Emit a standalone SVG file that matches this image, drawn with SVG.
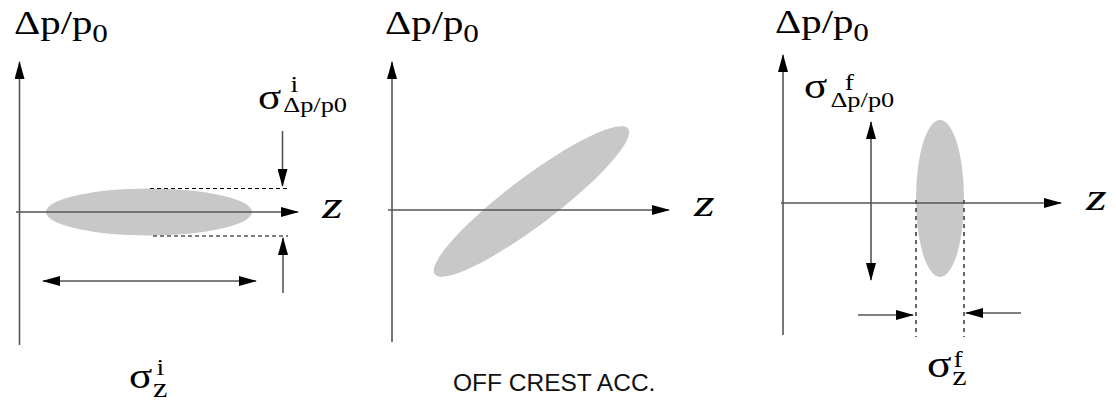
<svg xmlns="http://www.w3.org/2000/svg" width="1116" height="404" viewBox="0 0 1116 404">
  <style>
    .ser { font-family: "Liberation Serif", "Times New Roman", serif; fill: #000; }
    .ital { font-family: "Liberation Serif", "Times New Roman", serif; font-style: italic; fill: #000; }
    .sans { font-family: "Liberation Sans", Arial, sans-serif; fill: #111; }
    .axis { stroke: #555; stroke-width: 1.6; fill: none; }
    .dim { stroke: #555; stroke-width: 1.6; fill: none; }
    .dash1 { stroke: #000; stroke-width: 1; stroke-dasharray: 4 3; fill: none; }
    .dash3 { stroke: #555; stroke-width: 1.8; stroke-dasharray: 4 4; fill: none; }
    .blob { fill: #c8c8c8; }
  </style>
  <defs>
    <marker id="arr" markerUnits="userSpaceOnUse" viewBox="0 0 18 10" markerWidth="18" markerHeight="10" refX="17" refY="5" orient="auto-start-reverse">
      <path d="M0,0 L18,5 L0,10 z" fill="#000"/>
    </marker>
  </defs>

  <!-- Panel 1 -->
  <g id="panel1">
    <ellipse class="blob" cx="149" cy="212" rx="103" ry="23.5"/>
    <g id="panel1-connectors">
      <line class="axis" x1="19.5" y1="345" x2="19.5" y2="62" marker-end="url(#arr)"/>
      <line class="axis" x1="16" y1="212" x2="298" y2="212" marker-end="url(#arr)"/>
      <line class="dash1" x1="150" y1="188.5" x2="288" y2="188.5"/>
      <line class="dash1" x1="153" y1="236" x2="288" y2="236"/>
      <line class="dim" x1="282.5" y1="131" x2="282.5" y2="186" marker-end="url(#arr)"/>
      <line class="dim" x1="283" y1="293" x2="283" y2="238" marker-end="url(#arr)"/>
      <line class="dim" x1="43" y1="281" x2="256" y2="281" marker-start="url(#arr)" marker-end="url(#arr)"/>
    </g>
    <g id="panel1-labels">
      <text class="ser" font-size="34" transform="translate(14,34) scale(1.2,1)">Δp/p<tspan font-size="26" dy="8">0</tspan></text>
      <text class="ital" font-size="38" transform="translate(322,218) scale(1.4,1)">z</text>
      <text id="sigma-dp-i" class="ser" font-size="36" transform="translate(258,109) scale(1.2,1)">σ<tspan font-size="23" x="27" y="-17">i</tspan><tspan font-size="22" x="21" y="3">Δp/p0</tspan></text>
      <text id="sigma-z-i" class="ser" font-size="36" transform="translate(129,388) scale(1.2,1)">σ<tspan font-size="23" x="23" y="-13">i</tspan><tspan font-size="27" x="20" y="9">z</tspan></text>
    </g>
  </g>

  <!-- Panel 2 -->
  <g id="panel2">
    <ellipse class="blob" cx="0" cy="0" rx="121" ry="24" transform="translate(531.5,201.5) rotate(-37)"/>
    <g id="panel2-connectors">
      <line class="axis" x1="392" y1="342" x2="392" y2="62" marker-end="url(#arr)"/>
      <line class="axis" x1="388" y1="210" x2="669" y2="210" marker-end="url(#arr)"/>
    </g>
    <g id="panel2-labels">
      <text class="ser" font-size="34" transform="translate(385,34) scale(1.2,1)">Δp/p<tspan font-size="26" dy="8">0</tspan></text>
      <text class="ital" font-size="38" transform="translate(694,216) scale(1.4,1)">z</text>
      <text class="sans" font-size="24.5" x="453" y="391">OFF CREST ACC.</text>
    </g>
  </g>

  <!-- Panel 3 -->
  <g id="panel3">
    <ellipse class="blob" cx="940" cy="198.5" rx="24" ry="78.5"/>
    <g id="panel3-connectors">
      <line class="axis" x1="783" y1="335" x2="783" y2="55" marker-end="url(#arr)"/>
      <line class="axis" x1="781" y1="203" x2="1061" y2="203" marker-end="url(#arr)"/>
      <line class="dash3" x1="916" y1="200" x2="916" y2="337"/>
      <line class="dash3" x1="964" y1="200" x2="964" y2="337"/>
      <line class="dim" x1="871" y1="122" x2="871" y2="280" marker-start="url(#arr)" marker-end="url(#arr)"/>
      <line class="dim" x1="858" y1="315" x2="913" y2="315" marker-end="url(#arr)"/>
      <line class="dim" x1="1021" y1="313" x2="966" y2="313" marker-end="url(#arr)"/>
    </g>
    <g id="panel3-labels">
      <text class="ser" font-size="34" transform="translate(775,33) scale(1.2,1)">Δp/p<tspan font-size="26" dy="8">0</tspan></text>
      <text class="ital" font-size="38" transform="translate(1086,210) scale(1.4,1)">z</text>
      <text id="sigma-dp-f" class="ser" font-size="36" transform="translate(804,98) scale(1.2,1)">σ<tspan font-size="23" x="34" y="-8">f</tspan><tspan font-size="22" x="22" y="9">Δp/p0</tspan></text>
      <text id="sigma-z-f" class="ser" font-size="38" transform="translate(927,377) scale(1.2,1)">σ<tspan font-size="23" x="22" y="-10">f</tspan><tspan font-size="27" x="21" y="8">z</tspan></text>
    </g>
  </g>
</svg>
